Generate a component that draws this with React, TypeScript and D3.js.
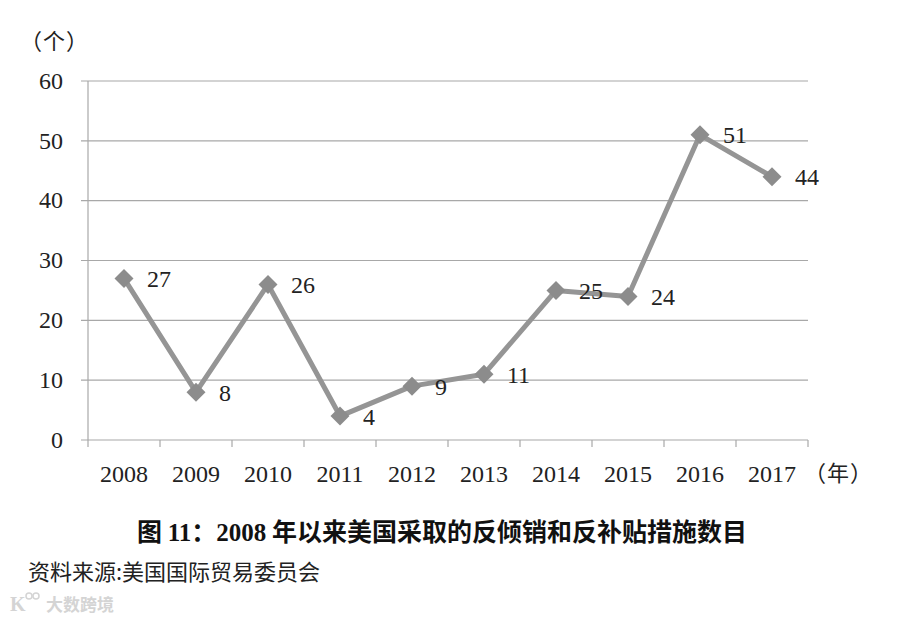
import React from "react";
import * as d3 from "d3";

const years = ["2008", "2009", "2010", "2011", "2012", "2013", "2014", "2015", "2016", "2017"];
const counts = [27, 8, 26, 4, 9, 11, 25, 24, 51, 44];
const yTicks = [0, 10, 20, 30, 40, 50, 60];
const titleParts = ["图 ", "11", "：", "2008", " 年以来美国采取的反倾销和反补贴措施数目"];
const source = "资料来源:美国国际贸易委员会";
const yUnit = "（个）";
const xUnit = "（年）";
const watermark = "大数跨境";

const W = 900, H = 620;
const left = 88, right = 808, top = 81, bottom = 440;
const serif = "'Liberation Serif', 'Times New Roman', serif";
const cjk = "'Noto Sans CJK SC', sans-serif";

export default function App() {
  const x = d3.scaleBand<string>().domain(years).range([left, right]).padding(0);
  const y = d3.scaleLinear().domain([0, 60]).range([bottom, top]);
  const cx = (d: string) => (x(d) as number) + x.bandwidth() / 2;
  const line = d3.line<number>().x((_, i) => cx(years[i])).y((d) => y(d));
  const boundaries = years.map((d) => x(d) as number).concat([right]);
  const grid = "#a8a8a8";
  const lineColor = "#959595";
  const markColor = "#8c8c8c";
  return (
    <svg width={W} height={H} style={{ position: "absolute", left: 0, top: 0, background: "#fff" }}>
      <rect width={W} height={H} fill="#fff" />
      {yTicks.map((t) => (
        <g key={t}>
          <line x1={left - 7} x2={right} y1={y(t)} y2={y(t)} stroke={grid} strokeWidth={1.2} />
          <text x={63} y={y(t)} dy="0.32em" textAnchor="end" fontFamily={serif} fontSize={24} fill="#222">
            {t}
          </text>
        </g>
      ))}
      <line x1={left} x2={left} y1={top} y2={bottom} stroke={grid} strokeWidth={1.2} />
      {boundaries.map((b, i) => (
        <line key={i} x1={b} x2={b} y1={bottom} y2={bottom + 7} stroke={grid} strokeWidth={1.2} />
      ))}
      {years.map((yr) => (
        <text key={yr} x={cx(yr)} y={482} textAnchor="middle" fontFamily={serif} fontSize={24} fill="#222">
          {yr}
        </text>
      ))}
      <text x={804} y={481} fontFamily={cjk} fontSize={22} letterSpacing={1} fill="#222">{xUnit}</text>
      <text x={20} y={49} fontFamily={cjk} fontSize={22} letterSpacing={1} fill="#222">{yUnit}</text>
      <path d={line(counts) || ""} fill="none" stroke={lineColor} strokeWidth={5} strokeLinejoin="round" />
      {counts.map((v, i) => {
        const px = cx(years[i]);
        const py = y(v);
        const s = 9.5;
        return (
          <g key={i}>
            <path d={`M${px},${py - s}L${px + s},${py}L${px},${py + s}L${px - s},${py}Z`} fill={markColor} />
            <text x={px + 23} y={py} dy="0.36em" fontFamily={serif} fontSize={24} fill="#222">
              {v}
            </text>
          </g>
        );
      })}
      <text x={442} y={541} textAnchor="middle" fontWeight="bold" fontSize={25} fill="#111">
        {titleParts.map((p, i) => (
          <tspan key={i} fontFamily={/^\d+$/.test(p) ? serif : cjk}>{p}</tspan>
        ))}
      </text>
      <text x={28} y={580} fontFamily={cjk} fontSize={22} fill="#222">{source}</text>
      <text x={46} y={611} fontFamily={cjk} fontWeight="bold" fontSize={17} fill="#d4d4d4">{watermark}</text>
      <text x={10} y={611} fontFamily={serif} fontWeight="bold" fontSize={20} fill="#d4d4d4">K</text>
      <circle cx={29} cy={596} r={3} fill="none" stroke="#d4d4d4" strokeWidth={1.5} />
      <circle cx={36} cy={596} r={3} fill="none" stroke="#d4d4d4" strokeWidth={1.5} />
    </svg>
  );
}
